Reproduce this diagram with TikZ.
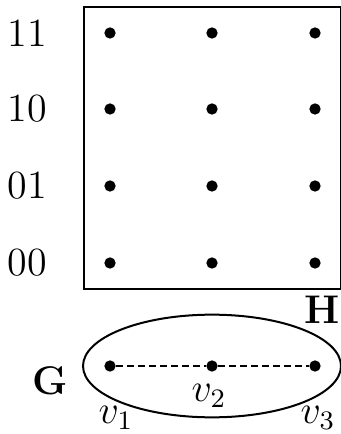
\documentclass[tikz,border=0pt]{standalone}
\usepackage{amsmath}
\usetikzlibrary{positioning}
\tikzset{
  vert/.style={circle, fill=black, minimum size=3.4pt, inner sep=0pt},
  rowlab/.style={font=\large, inner sep=1pt},
  vlab/.style={font=\large, inner sep=1pt},
  graphname/.style={font=\large\bfseries, inner sep=1pt},
}

\begin{document}
\begin{tikzpicture}[x=0.3pt, y=-0.3pt]
\useasboundingbox (0,0) rectangle (340,434);
% host graph H
\draw[semithick] (84,7) rectangle (341,289);
\foreach \lab/\y in {11/33, 10/109, 01/186, 00/263} {
  \node[rowlab] (row\lab) at (27,\y) {\lab};
  \foreach \c/\x in {a/110, b/212, c/315}
    \node[vert] (h\c\lab) at (\x,\y) {};
}
\node[graphname] (Hname) at (322,310) {H};
% guest graph G
\draw[semithick] (212,366) ellipse [x radius=38.7pt, y radius=15.4pt];
\node[vert] (v1) at (110,366) {};
\node[vert] (v2) at (212,366) {};
\node[vert] (v3) at (315,366) {};
\draw[dashed, dash pattern=on 2pt off 1.3pt] (v1) -- (v2) -- (v3);
\node[graphname] (Gname) at (50,381) {G};
\node[vlab] (v1lab) at (116,418) {$v_1$};
\node[vlab] (v2lab) at (209,396) {$v_2$};
\node[vlab] (v3lab) at (318,418) {$v_3$};
\end{tikzpicture}
\end{document}
